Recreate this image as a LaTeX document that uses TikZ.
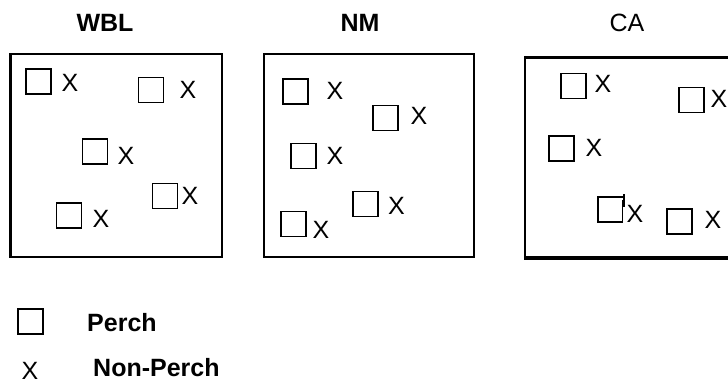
\documentclass[tikz,border=0pt]{standalone}
\usepackage{fontspec}
\setmainfont{Liberation Sans}
\begin{document}
\begin{tikzpicture}[x=1pt,y=-1pt,
  perch/.style={draw,line width=1.5pt,minimum size=25pt,inner sep=0pt,outer sep=0pt},
  nonp/.style={inner sep=0pt,font=\fontsize{25}{30}\selectfont},
  ttl/.style={inner sep=0pt,font=\fontsize{25}{30}\selectfont\bfseries},
  ttlr/.style={inner sep=0pt,font=\fontsize{25}{30}\selectfont},
  frame/.style={line width=1.3pt},
  thick frame/.style={line width=3pt}]
\useasboundingbox (0,0) rectangle (728,385);
\fill[white] (0,0) rectangle (728,385);

% titles
\node[ttl] (tWBL) at (105,23) {WBL};
\node[ttl] (tNM) at (360,23) {NM};
\node[ttlr] (tCA) at (627,23) {CA};

% WBL box
\draw[frame] (10,54) rectangle (222,257);
\draw[thick frame] (10.5,54) -- (10.5,257.6);
\node[perch] (w1) at (38.5,81.5) {};   \node[nonp] (wx1) at (70,83) {X};
\node[perch] (w2) at (151,90) {};     \node[nonp] (wx2) at (188,90) {X};
\node[perch] (w3) at (95,151.5) {};    \node[nonp] (wx3) at (126,156) {X};
\node[perch] (w4) at (165,196) {};    \node[nonp] (wx4) at (190,196) {X};
\node[perch] (w5) at (69,215.5) {};    \node[nonp] (wx5) at (101,219) {X};

% NM box
\draw[frame] (264,54) rectangle (474,257);
\node[perch] (n1) at (295.5,91.5) {};  \node[nonp] (nx1) at (335,91) {X};
\node[perch] (n2) at (385.5,118) {};   \node[nonp] (nx2) at (419,116) {X};
\node[perch] (n3) at (303.5,156) {};   \node[nonp] (nx3) at (335,156) {X};
\node[perch] (n4) at (365.5,204) {};   \node[nonp] (nx4) at (396.5,206) {X};
\node[perch] (n5) at (293.5,224) {};   \node[nonp] (nx5) at (321,230) {X};

% CA box (open to the right)
\draw[line width=3pt] (524,57.5) -- (740,57.5);
\draw[line width=4pt] (524,258) -- (740,258);
\draw[line width=2pt] (524.5,56) -- (524.5,260);
\node[perch] (c1) at (573.5,86) {};    \node[nonp] (cx1) at (603,84) {X};
\node[perch] (c2) at (691.5,100) {};   \node[nonp] (cx2) at (719,99) {X};
\node[perch] (c3) at (561.5,148.5) {}; \node[nonp] (cx3) at (594,148) {X};
\node[perch,draw=none] (c4) at (610.5,209.5) {};
\draw[line width=1.5pt] ([xshift=1.5pt]c4.north east) -- (c4.north west) -- (c4.south west) -- ([xshift=-0.5pt]c4.south east) -- ([xshift=-0.5pt,yshift=-2.5pt]c4.north east);
\draw[line width=1.5pt] ([xshift=1pt,yshift=3pt]c4.north east) -- ([xshift=1pt,yshift=-10pt]c4.north east);
\node[nonp] (cx4) at (635,214) {X};
\node[perch] (c5) at (679.5,221.5) {}; \node[nonp] (cx5) at (713,220) {X};

% legend
\node[perch] (lp) at (30.5,321.5) {};
\node[ttl,anchor=west] (lpt) at (87,323) {Perch};
\node[nonp] (lx) at (30,371) {X};
\node[ttl,anchor=west] (lxt) at (93,368) {Non-Perch};
\end{tikzpicture}
\end{document}
